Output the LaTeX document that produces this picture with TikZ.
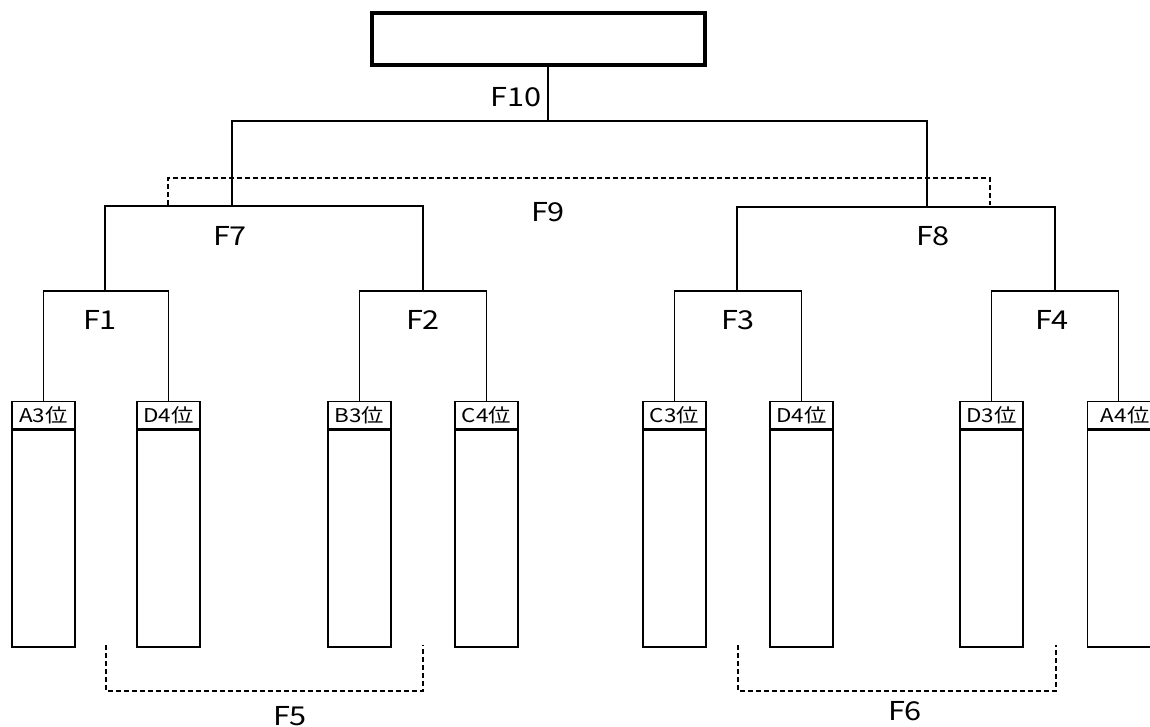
\documentclass[tikz,border=0pt]{standalone}
\usepackage{fontspec}
\setmainfont{Noto Sans CJK JP}
\newfontfamily\widefont[FakeStretch=1.18]{Noto Sans CJK JP}
\begin{document}
\begin{tikzpicture}[x=1pt,y=-1pt, line width=1.4pt,
 hdr/.style={draw, minimum width=63pt, minimum height=27pt, inner sep=0pt, anchor=north, font=\widefont\fontsize{19}{19}\selectfont},
 colbody/.style={draw, minimum width=63pt, minimum height=217pt, inner sep=0pt, anchor=north},
 lbl/.style={inner sep=0pt, font=\widefont\fontsize{26}{26}\selectfont},
 brk/.style={line width=1.2pt, dash pattern=on 5pt off 3pt}]
\useasboundingbox (0,0) rectangle (1150,727);
% top box
\node[draw, line width=3.5pt, minimum width=333pt, minimum height=52pt, inner sep=0pt] (top) at (538.5,39) {};
% columns
\foreach \n/\x/\t in {hA/43.5/A3位, hDa/168.5/D4位, hB/359.5/B3位, hC/486.5/C4位, hCb/674.5/C3位, hDb/801.5/D4位, hDc/991.5/D3位}{
  \node[hdr] (\n) at (\x,401) {\t};
  \node[colbody] (\n b) at (\n.south) {};
}
% last column runs past the right edge
\node[hdr, anchor=north west, minimum width=75pt, text width=63pt, align=center] (hAb) at (1087,401) {A4位};
\node[colbody, anchor=north west, minimum width=75pt] (hAbb) at (hAb.south west) {};
% junctions
\coordinate (f10) at (548,121);
\coordinate (f7) at (232,206);
\coordinate (f8) at (927,207);
\coordinate (f1) at (105,291);
\coordinate (f2) at (423,291);
\coordinate (f3) at (737,291);
\coordinate (f4) at (1055,291);
% tree
\draw (top.south -| f10) -- (f10);
\draw (f7) |- (f10) -| (f8);
\draw (f1) |- (f7) -| (f2);
\draw (f3) |- (f8) -| (f4);
\draw (hA.north) |- (f1) -| (hDa.north);
\draw (hB.north) |- (f2) -| (hC.north);
\draw (hCb.north) |- (f3) -| (hDb.north);
\draw (hDc.north) |- (f4) -| ([xshift=31.5pt]hAb.north west);
% dashed brackets
\coordinate (d9a) at (168,205); \coordinate (d9b) at (990,205);
\draw[brk] (d9a) -- ++(0,-27) -| (d9b);
\coordinate (d5a) at (106,645); \coordinate (d5b) at (423,645);
\draw[brk] (d5a) -- ++(0,46) -| (d5b);
\coordinate (d6a) at (738,645); \coordinate (d6b) at (1056,645);
\draw[brk] (d6a) -- ++(0,46) -| (d6b);
% labels
\node[lbl] (l10) at (516,97) {F10};
\node[lbl] (l9) at (548,212) {F9};
\node[lbl] (l7) at (230,236) {F7};
\node[lbl] (l8) at (933,236) {F8};
\node[lbl] (l1) at (100,320) {F1};
\node[lbl] (l2) at (423,320) {F2};
\node[lbl] (l3) at (738,320) {F3};
\node[lbl] (l4) at (1052,320) {F4};
\node[lbl] (l5) at (290,716) {F5};
\node[lbl] (l6) at (905,711) {F6};
\end{tikzpicture}
\end{document}
